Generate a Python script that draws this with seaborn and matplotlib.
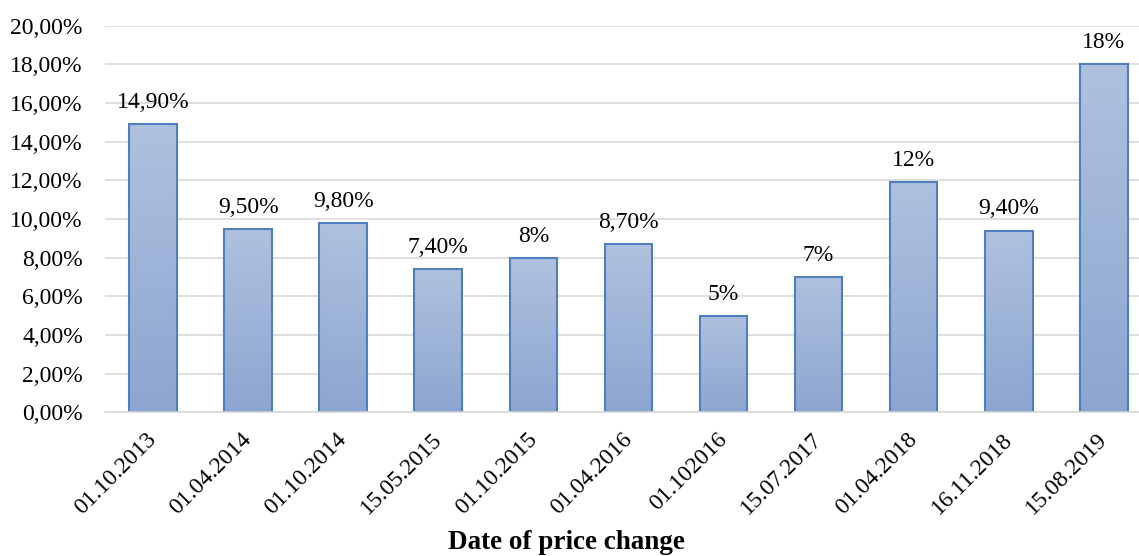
import numpy as np
import pandas as pd
import matplotlib
matplotlib.use("Agg")
import matplotlib.pyplot as plt
import matplotlib.transforms as mtransforms
import seaborn as sns
from matplotlib.colors import LinearSegmentedColormap
from matplotlib.ticker import FuncFormatter

dates = ["01.10.2013", "01.04.2014", "01.10.2014", "15.05.2015", "01.10.2015",
         "01.04.2016", "01.102016", "15.07.2017", "01.04.2018", "16.11.2018", "15.08.2019"]
values = [14.9, 9.5, 9.8, 7.4, 8.0, 8.7, 5.0, 7.0, 11.9, 9.4, 18.0]
labels = ["14,90%", "9,50%", "9,80%", "7,40%", "8%", "8,70%", "5%", "7%", "12%", "9,40%", "18%"]
yticks = [0, 2, 4, 6, 8, 10, 12, 14, 16, 18, 20]

sns.set_theme(style="white")
plt.rcParams['font.family'] = ['Liberation Serif', 'DejaVu Serif']
plt.rcParams['text.color'] = 'black'

df = pd.DataFrame({"date": dates, "value": values})

fig = plt.figure(figsize=(11.39, 5.56), dpi=100)
ax = fig.add_axes([0.0922, 0.2585, 0.9078, 0.6953])

sns.barplot(data=df, x="date", y="value", ax=ax, width=0.5,
            color="#9DB3D8", edgecolor="#4F7FBD", linewidth=1.5, saturation=1)

ax.set_ylim(0, 20)
ax.set_xlim(-0.505, 10.37)
ax.set_yticks(yticks)
ax.yaxis.set_major_formatter(FuncFormatter(lambda v, p: f"{v:.2f}".replace(".", ",") + "%"))
ax.grid(axis="y", color="#D9D9D9", linewidth=1.2)
ax.set_axisbelow(True)
for s in ["top", "right", "left"]:
    ax.spines[s].set_visible(False)
ax.spines["bottom"].set_color("#D9D9D9")
ax.spines["bottom"].set_linewidth(1.2)
ax.tick_params(axis="both", length=0, labelsize=17, colors="black")
ax.tick_params(axis="y", pad=16)
ax.tick_params(axis="x", pad=12)
offset = mtransforms.ScaledTranslation(-7 / 100, 0, fig.dpi_scale_trans)
for lbl in ax.get_xticklabels():
    lbl.set_rotation(45)
    lbl.set_ha("right")
    lbl.set_rotation_mode("anchor")
    lbl.set_transform(lbl.get_transform() + offset)
ax.set_ylabel("")
ax.set_xlabel("Date of price change", fontsize=19.5, fontweight="bold",
              color="black", va="center")
ax.xaxis.set_label_coords(0.446, -0.338)

# gradient fill inside each bar
cmap = LinearSegmentedColormap.from_list("g", ["#8CA6D1", "#AFC1DE"])
grad = np.linspace(0, 1, 256).reshape(-1, 1)
for patch in ax.patches:
    x0, y0 = patch.get_x(), patch.get_y()
    w, h = patch.get_width(), patch.get_height()
    im = ax.imshow(grad, cmap=cmap, extent=[x0, x0 + w, y0, y0 + h],
                   origin="lower", aspect="auto", zorder=patch.get_zorder() + 0.1)
    im.set_clip_path(patch)
    patch.set_facecolor("none")
    patch.set_zorder(patch.get_zorder() + 0.2)

ax.set_xlim(-0.505, 10.37)
ax.set_ylim(0, 20)

for i, (v, lab) in enumerate(zip(values, labels)):
    ax.annotate(lab, (i, v), xytext=(0, 8), textcoords="offset points",
                ha="center", va="bottom", fontsize=17, color="black")

fig.savefig("out.png", dpi=100)
